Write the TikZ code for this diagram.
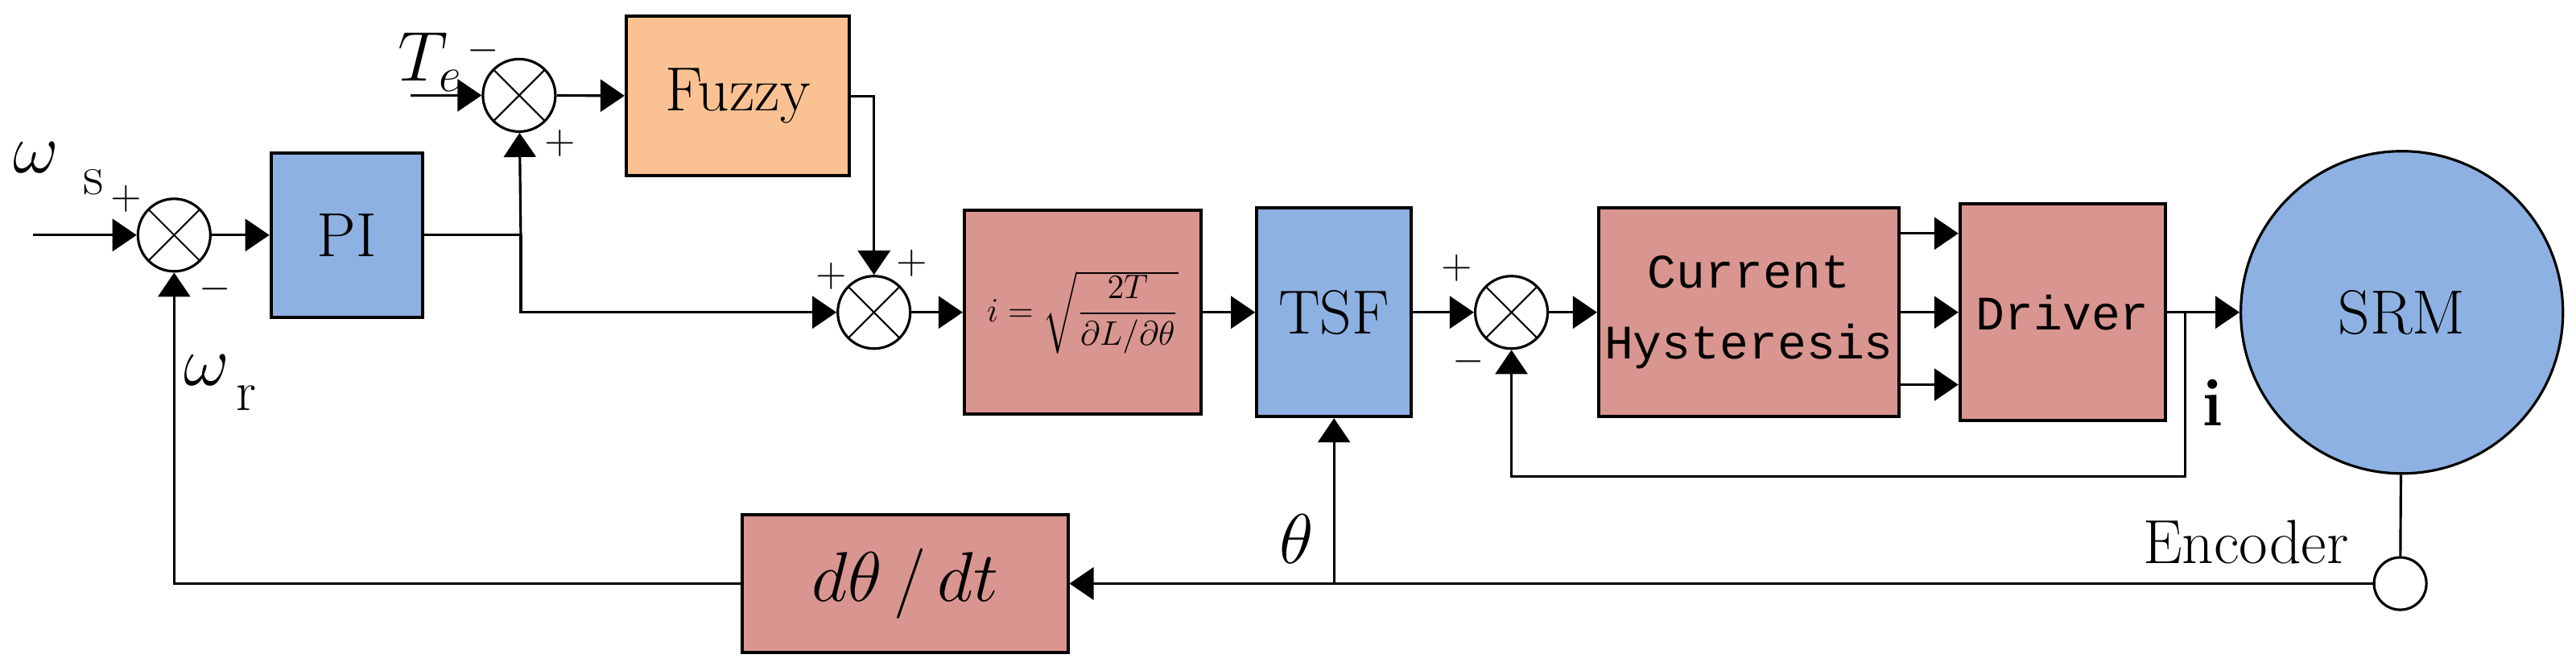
\documentclass[tikz,border=0pt]{standalone}
\usepackage{amsmath}
\usepackage{fontspec}
\newfontfamily\monofont{Liberation Mono}
\usetikzlibrary{arrows.meta,positioning,calc}

\definecolor{blockblue}{HTML}{8DB1E2}
\definecolor{blockred}{HTML}{D9958F}
\definecolor{blockorange}{HTML}{FAC292}

\begin{document}
\begin{tikzpicture}[x=0.0204cm,y=-0.0204cm,line width=0.9pt,
  arr/.style={-{Triangle[length=0.3cm,width=0.4cm]}}]

\tikzstyle{block}=[draw=black,line width=1.1pt,inner sep=2pt]
\tikzstyle{sum}=[draw=black,circle,minimum size=0.9cm,inner sep=0pt,fill=white,
  path picture={\draw[line width=0.6pt] (path picture bounding box.north west) -- (path picture bounding box.south east)
  (path picture bounding box.north east) -- (path picture bounding box.south west);}]
\tikzstyle{sign}=[font=\fontsize{14}{16}\selectfont,inner sep=0pt]
\tikzstyle{big}=[font=\fontsize{24}{28}\selectfont,inner sep=0pt]

\useasboundingbox (0,0) rectangle (1568,408);

%summing junctions
\node [sum] (sum1) at (106,143) {};
\node [sum] (sum2) at (316,58) {};
\node [sum] (sum3) at (532,190) {};
\node [sum] (sum4) at (920,190) {};

%blocks
\node [block,fill=blockblue,minimum width=1.88cm,minimum height=2.04cm,font=\fontsize{22}{26}\selectfont] (pi) at (211,143) {PI};
\node [block,fill=blockorange,minimum width=2.77cm,minimum height=1.98cm,font=\fontsize{22}{26}\selectfont] (fuzzy) at (449,58.5) {Fuzzy};
\node [block,fill=blockred,minimum width=2.94cm,minimum height=2.53cm,font=\fontsize{13}{16}\selectfont] (curr) at (659,190) {$i=\sqrt{\dfrac{2T}{\partial L/\partial\theta}}$};
\node [block,fill=blockblue,minimum width=1.92cm,minimum height=2.59cm,font=\fontsize{22}{26}\selectfont] (tsf) at (812,190) {TSF};
\node [block,fill=blockred,minimum width=3.73cm,minimum height=2.59cm,align=center,font=\monofont\fontsize{17}{25}\selectfont] (hyst) at (1064.5,190) {Current\\Hysteresis};
\node [block,fill=blockred,minimum width=2.55cm,minimum height=2.69cm,font=\monofont\fontsize{17}{20}\selectfont] (driver) at (1255.5,190) {Driver};
\node [block,fill=blockred,minimum width=4.04cm,minimum height=1.71cm,font=\fontsize{26}{30}\selectfont] (deriv) at (551,355) {$d\theta\,/\,dt$};
\node [draw=black,circle,fill=blockblue,minimum size=4cm,font=\fontsize{22}{26}\selectfont] (srm) at (1462,190) {SRM};
\node [draw=black,circle,fill=white,minimum size=0.65cm] (enc) at (1461,355) {};

%helper coordinates
\coordinate (in) at (20,143);
\coordinate (te) at (250,58);
\coordinate (j1) at (317,143);
\coordinate (ji) at (1330,190);
\coordinate (jt) at (812,355);

%forward path
\draw [arr] (in) -- (sum1);
\draw [arr] (sum1) -- (pi);
\draw (pi) -- (j1);
\draw [arr] (j1) -- (sum2);
\draw [arr] (j1) |- (sum3);
\draw [arr] (te) -- (sum2);
\draw [arr] (sum2) -- (fuzzy);
\draw [arr] (fuzzy.east) -| (sum3);
\draw [arr] (sum3) -- (curr);
\draw [arr] (curr) -- (tsf);
\draw [arr] (tsf) -- (sum4);
\draw [arr] (sum4) -- (hyst);
\foreach \dy in {-48,0,44}
  \draw [arr] ($(hyst.east)+(0,\dy)$) -- ($(driver.west)+(0,\dy)$);
\draw [arr] (driver) -- (srm);

%feedback paths
\draw [arr] (ji) -- ++(0,100) -| (sum4);
\draw (srm) -- (enc);
\draw [arr] (enc) -- (deriv);
\draw [arr] (jt) -- (tsf);
\draw [arr] (deriv) -| (sum1);

%labels
\node [big,font=\fontsize{28}{30}\selectfont] (ws) at (22,96) {$\omega$};
\node [big,font=\fontsize{20}{24}\selectfont] (wss) at (57,111) {s};
\node [sign] at (77,121) {$+$};
\node [sign] at (131,176) {$-$};
\node [big] (tel) at (262,38) {$T_e$};
\node [sign] at (294,31) {$-$};
\node [sign] at (341,87) {$+$};
\node [sign] at (506,168) {$+$};
\node [sign] at (555,160) {$+$};
\node [sign] at (887,163) {$+$};
\node [sign] at (894,220) {$-$};
\node [big,font=\fontsize{28}{30}\selectfont] (wr) at (126,225) {$\omega$};
\node [big,font=\fontsize{20}{24}\selectfont] (wrr) at (150,242) {r};
\node [big] (thl) at (789,328) {$\theta$};
\node [big,font=\bfseries\fontsize{24}{28}\selectfont] (il) at (1347,245) {i};
\node [big,font=\fontsize{22}{26}\selectfont] (encl) at (1367,330) {Encoder};

\end{tikzpicture}
\end{document}
